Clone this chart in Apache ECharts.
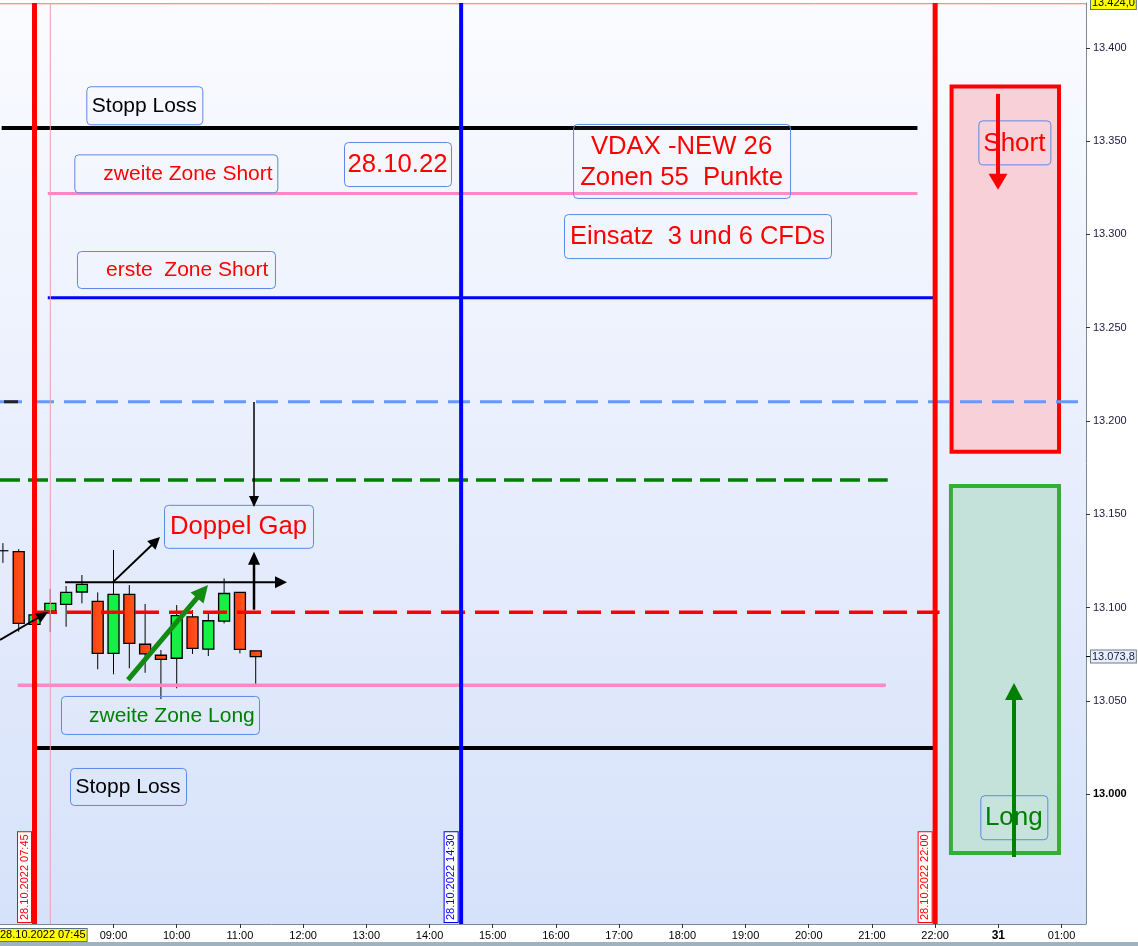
<!DOCTYPE html>
<html><head><meta charset="utf-8">
<script src="https://cdn.jsdelivr.net/npm/echarts@6/dist/echarts.min.js"></script>
<style>html,body{margin:0;padding:0;background:#fff;overflow:hidden}#c{width:1138px;height:946px}</style>
</head><body><div id="c"></div>
<script>
// ---------- DATA ----------
// time unit: decimal hours of 28.10.2022; 23 = "31" (00:00), 24 = 01:00
const candleTimes = ['07:15','07:30','07:45','08:00','08:15','08:30','08:45','09:00','09:15','09:30','09:45','10:00','10:15','10:30','10:45','11:00','11:15'];
const candleOpen  = [13130.5,13130.0,13091.0,13098.2,13101.8,13108.4,13103.4,13075.5,13107.1,13080.4,13074.5,13072.9,13095.1,13077.8,13092.8,13108.2,13076.9];
const candleClose = [13130.5,13091.6,13096.1,13102.3,13108.2,13112.5,13075.5,13107.1,13080.9,13075.2,13072.3,13095.7,13078.2,13093.0,13107.6,13077.7,13073.8];
const candleLow   = [13124.0,13087.1,13090.0,13087.0,13089.8,13102.3,13067.0,13064.3,13067.5,13065.1,13051.0,13056.8,13075.2,13074.1,13091.6,13075.5,13059.0];
const candleHigh  = [13134.6,13131.4,13097.5,13110.0,13111.6,13117.5,13108.2,13130.9,13112.1,13102.0,13077.3,13101.4,13098.7,13097.0,13115.7,13108.2,13076.9];

const xTickValues = [9,10,11,12,13,14,15,16,17,18,19,20,21,22,23,24];
const xTickLabels = ['09:00','10:00','11:00','12:00','13:00','14:00','15:00','16:00','17:00','18:00','19:00','20:00','21:00','22:00','31','01:00'];
const yTickValues = [13000,13050,13100,13150,13200,13250,13300,13350,13400];

const xMin = 7.204, xMax = 24.387;
const yMin = 12930.5, yMax = 13424;

// horizontal level lines
const levelPrices = [13357.0, 13321.9, 13266.1, 13210.4, 13210.4, 13168.4, 13097.5, 13058.4, 13024.8, 13423.6];
const levelFrom   = [7.23, 7.96, 7.96, 7.204, 7.267, 7.204, 7.726, 7.484, 7.753, 7.204];
const levelTo     = [21.72, 21.72, 22.0, 24.387, 7.489, 21.25, 22.07, 21.22, 22.0, 24.387];

// vertical time markers
const vlineTimes  = [7.75, 8.0, 14.5, 22.0];
const vlineLabels = ['28.10.2022 07:45', '', '28.10.2022 14:30', '28.10.2022 22:00'];

// zone rectangles
const zoneFrom   = [22.26, 22.25];
const zoneTo     = [23.96, 23.96];
const zoneTop    = [13379.2, 13165.2];
const zoneBottom = [13183.6, 12968.6];

// annotations (anchor = top-left of box)
const annTexts  = ['Stopp Loss','zweite Zone Short','28.10.22','VDAX -NEW 26\nZonen 55  Punkte','Einsatz  3 und 6 CFDs','erste  Zone Short','Doppel Gap','zweite Zone Long','Stopp Loss','Short','Long'];
const annTimes  = [8.570, 8.380, 12.647, 16.271, 16.128, 8.422, 9.799, 8.169, 8.312, 22.684, 22.715];
const annPrices = [13379.4, 13342.9, 13349.5, 13359.2, 13310.9, 13291.1, 13155.1, 13052.7, 13014.1, 13361.1, 12999.5];

// arrows
const arrowFromT = [22.995, 23.248, 11.223, 11.223, 8.233, 8.992, 7.204, 9.229];
const arrowFromP = [13375.3, 12966.4, 13210.2, 13098.9, 13113.6, 13113.7, 13082.7, 13061.3];
const arrowToT   = [22.995, 23.248, 11.223, 11.223, 11.745, 9.736, 7.964, 10.495];
const arrowToP   = [13323.9, 13059.6, 13153.9, 13130.0, 13113.6, 13137.8, 13097.7, 13112.2];

// price labels on axis
const lastPrice = 13073.8;
const topPrice = 13424.0;
const cursorTime = 7.75;
const cursorLabel = '28.10.2022 07:45';

// ---------- STYLES ----------
const FONT = '"Liberation Sans", Arial, Helvetica, sans-serif';
const levelStyles = [
  {color:'#000000', width:4, type:'solid'},
  {color:'#ff88c4', width:3, type:'solid'},
  {color:'#0000ff', width:3, type:'solid'},
  {color:'#6699ff', width:3, type:[22,10]},
  {color:'#222222', width:3, type:'solid'},
  {color:'#008000', width:3.5, type:[20,8]},
  {color:'#ff0000', width:3.5, type:[24,10]},
  {color:'#ff88c4', width:3.5, type:'solid'},
  {color:'#000000', width:4, type:'solid'},
  {color:'#ff7070', width:1, type:'solid'}
];
const vlineStyles = [
  {color:'#ff0000', width:5},
  {color:'#e4a4ac', width:1},
  {color:'#0000ff', width:4},
  {color:'#ff0000', width:5}
];
const zoneStyles = [
  {stroke:'#ff0000', fill:'#f8d0d7'},
  {stroke:'#33b033', fill:'#c5e2da'}
];
const annStyles = [
  {w:116,h:38,fs:21,color:'#000000',align:'center'},
  {w:203,h:38,fs:21,color:'#ff0000',align:'left',pad:29},
  {w:107,h:44,fs:25.7,color:'#ff0000',align:'center'},
  {w:217,h:74,fs:25.7,color:'#ff0000',align:'center',lh:31},
  {w:267,h:44,fs:25.5,color:'#ff0000',align:'center'},
  {w:198,h:37,fs:21,color:'#ff0000',align:'left',pad:29},
  {w:149,h:43,fs:25.7,color:'#ff0000',align:'center'},
  {w:198,h:38,fs:21,color:'#008000',align:'left',pad:28},
  {w:116,h:37,fs:21,color:'#000000',align:'center'},
  {w:72,h:44,fs:26,color:'#ff0000',align:'center'},
  {w:67,h:44,fs:26,color:'#008000',align:'center'}
];
const arrowStyles = [
  {color:'#ff0000', w:4, hl:16, hw:19},
  {color:'#008000', w:4, hl:17, hw:18},
  {color:'#000000', w:1.5, hl:11, hw:10},
  {color:'#000000', w:2.5, hl:13, hw:12},
  {color:'#000000', w:2, hl:12, hw:12},
  {color:'#000000', w:2, hl:12, hw:12},
  {color:'#000000', w:2, hl:12, hw:11},
  {color:'#138a13', w:5, hl:17, hw:17}
];

function hrs(s){const p=s.split(':').map(Number);return p[0]+p[1]/60;}
function fmtDE(v, dec){
  const s = v.toFixed(dec).split('.');
  const int = s[0].replace(/\B(?=(\d{3})+(?!\d))/g,'.');
  return dec ? int+','+s[1] : int;
}

const chart = echarts.init(document.getElementById('c'), null, {renderer:'canvas'});
const series = [];

// zones
series.push({
  type:'custom', z:1, silent:true,
  data: zoneFrom.map((t,i)=>[t, zoneTop[i], i]),
  renderItem(params, api){
    const i = params.dataIndex;
    const a = api.coord([zoneFrom[i], zoneTop[i]]);
    const b = api.coord([zoneTo[i], zoneBottom[i]]);
    return {type:'rect', shape:{x:a[0], y:a[1], width:b[0]-a[0], height:b[1]-a[1]},
      style:{fill:zoneStyles[i].fill, stroke:zoneStyles[i].stroke, lineWidth:4}};
  }
});

// candles
series.push({
  type:'custom', z:2, silent:true,
  data: candleTimes.map((t,i)=>[hrs(t), candleOpen[i], candleClose[i], candleLow[i], candleHigh[i]]),
  renderItem(params, api){
    const x = api.value(0), o = api.value(1), c = api.value(2), l = api.value(3), h = api.value(4);
    const pO = api.coord([x,o]), pC = api.coord([x,c]), pL = api.coord([x,l]), pH = api.coord([x,h]);
    const w = 11;
    const top = Math.min(pO[1], pC[1]), bot = Math.max(pO[1], pC[1]);
    const up = c > o;
    const flat = Math.abs(c-o) < 0.01;
    const kids = [
      {type:'line', shape:{x1:pH[0], y1:pH[1], x2:pL[0], y2:pL[1]}, style:{stroke:'#000', lineWidth:1}}
    ];
    if (flat) {
      kids.push({type:'line', shape:{x1:pO[0]-w/2, y1:pO[1], x2:pO[0]+w/2, y2:pO[1]}, style:{stroke:'#000', lineWidth:1.2}});
    } else {
      kids.push({type:'rect', shape:{x:pO[0]-w/2, y:top, width:w, height:bot-top},
        style:{fill: up ? '#14f048' : new echarts.graphic.LinearGradient(0,0,1,0,[{offset:0,color:'#ff3c0c'},{offset:1,color:'#ff5a1e'}]),
               stroke:'#000', lineWidth:1.3}});
    }
    return {type:'group', children:kids};
  }
});

// level lines
levelPrices.forEach((p,i)=>{
  const st = levelStyles[i];
  series.push({
    type:'line', z:3, silent:true, symbol:'none', animation:false,
    data:[[levelFrom[i], p],[levelTo[i], p]],
    lineStyle:{color:st.color, width:st.width, type:st.type, cap:'butt'}
  });
});

// vertical lines
vlineTimes.forEach((t,i)=>{
  const st = vlineStyles[i];
  series.push({
    type:'line', z:4, silent:true, symbol:'none', animation:false,
    data:[[t, yMin],[t, yMax]],
    lineStyle:{color:st.color, width:st.width}
  });
});

// vertical date labels
series.push({
  type:'custom', z:5, silent:true,
  data: vlineTimes.map((t,i)=>[t, yMin, i]),
  renderItem(params, api){
    const i = params.dataIndex;
    if (!vlineLabels[i]) return null;
    const p = api.coord([vlineTimes[i], yMin]);
    const col = vlineStyles[i].color;
    return {type:'text', x:p[0]-10, y:p[1]-2, rotation:Math.PI/2,
      style:{text:vlineLabels[i], x:0, y:0, align:'left', verticalAlign:'middle',
        font:'11px '+FONT, fill:col, backgroundColor:'#ffffff', borderColor:col, borderWidth:1, padding:[1,2,1,2]}};
  }
});

// annotations
series.push({
  type:'custom', z:6, silent:true,
  data: annTexts.map((s,i)=>[annTimes[i], annPrices[i], i]),
  renderItem(params, api){
    const i = params.dataIndex;
    const st = annStyles[i];
    const a = api.coord([annTimes[i], annPrices[i]]);
    const tx = st.align === 'center' ? a[0] + st.w/2 : a[0] + st.pad;
    return {type:'group', children:[
      {type:'rect', shape:{x:a[0]+0.5, y:a[1]+0.5, width:st.w, height:st.h, r:4},
        style:{fill:'rgba(255,255,255,0.05)', stroke:'#5a8ae6', lineWidth:1}},
      {type:'text', style:{text:annTexts[i], x:tx, y:a[1]+st.h/2+1, align:st.align, verticalAlign:'middle',
        font:st.fs+'px '+FONT, fill:st.color, lineHeight: st.lh || st.fs*1.2}}
    ]};
  }
});

// arrows
series.push({
  type:'custom', z:7, silent:true,
  data: arrowFromT.map((t,i)=>[t, arrowFromP[i], i]),
  renderItem(params, api){
    const i = params.dataIndex;
    const st = arrowStyles[i];
    const a = api.coord([arrowFromT[i], arrowFromP[i]]);
    const b = api.coord([arrowToT[i], arrowToP[i]]);
    const dx = b[0]-a[0], dy = b[1]-a[1], L = Math.hypot(dx,dy), ux = dx/L, uy = dy/L;
    const bx = b[0]-ux*st.hl, by = b[1]-uy*st.hl, px = -uy, py = ux;
    return {type:'group', children:[
      {type:'line', shape:{x1:a[0], y1:a[1], x2:bx+ux, y2:by+uy}, style:{stroke:st.color, lineWidth:st.w}},
      {type:'polygon', shape:{points:[[b[0],b[1]],[bx+px*st.hw/2, by+py*st.hw/2],[bx-px*st.hw/2, by-py*st.hw/2]]},
        style:{fill:st.color}}
    ]};
  }
});

// axis price / time labels
series.push({
  type:'custom', z:8, silent:true,
  data:[[xMax, topPrice, 0],[xMax, lastPrice, 1],[cursorTime, yMin, 2]],
  renderItem(params, api){
    const i = params.dataIndex;
    if (i === 0) {
      const p = api.coord([xMax, topPrice]);
      return {type:'text', style:{text:fmtDE(topPrice,1), x:p[0]+5, y:p[1], align:'left', verticalAlign:'middle',
        font:'11px '+FONT, fill:'#000', backgroundColor:'#ffff00', borderColor:'#5f7080', borderWidth:1, padding:[1,1,0,1]}};
    }
    if (i === 1) {
      const p = api.coord([xMax, lastPrice]);
      return {type:'group', children:[
        {type:'line', shape:{x1:p[0], y1:p[1], x2:p[0]+5, y2:p[1]}, style:{stroke:'#000', lineWidth:1}},
        {type:'text', style:{text:fmtDE(lastPrice,1), x:p[0]+5, y:p[1], align:'left', verticalAlign:'middle',
          font:'11px '+FONT, fill:'#1a1a3a', backgroundColor:'#e8eefb', borderColor:'#6a7c8c', borderWidth:1, padding:[1,1,0,1]}}
      ]};
    }
    const p = api.coord([cursorTime, yMin]);
    const halfW = 45;
    const left = Math.max(-1, p[0]-halfW);
    return {type:'text', style:{text:cursorLabel, x:left, y:p[1]+11, align:'left', verticalAlign:'middle',
      font:'11px '+FONT, fill:'#000', backgroundColor:'#ffff00', borderColor:'#5f7080', borderWidth:1, padding:[1,1,0,1]}};
  }
});

chart.setOption({
  animation:false,
  backgroundColor:'#ffffff',
  grid:{left:0, right:52, top:3, bottom:22, show:true, borderWidth:0,
    backgroundColor: new echarts.graphic.LinearGradient(0,0,0,1,[{offset:0,color:'#fafbff'},{offset:1,color:'#d6e2fa'}])},
  xAxis:{type:'value', min:xMin, max:xMax,
    axisLine:{show:true, lineStyle:{color:'#7a8a98', width:1}},
    axisTick:{show:true, customValues:xTickValues, length:4, lineStyle:{color:'#333'}},
    axisLabel:{customValues:xTickValues, margin:6, fontSize:11, fontFamily:FONT, color:'#000',
      formatter:(v)=>{const i = xTickValues.indexOf(Math.round(v)); const s = xTickLabels[i]; return s==='31' ? '{b|31}' : s;},
      rich:{b:{fontWeight:'bold', fontSize:12, fontFamily:FONT, color:'#000'}}},
    splitLine:{show:false}},
  yAxis:{type:'value', position:'right', min:yMin, max:yMax,
    axisLine:{show:true, lineStyle:{color:'#7a8a98', width:1}},
    axisTick:{show:true, customValues:yTickValues, length:4, lineStyle:{color:'#333'}},
    axisLabel:{customValues:yTickValues, margin:7, fontSize:11, fontFamily:FONT, color:'#1a1a3a',
      formatter:(v)=>{const s = fmtDE(Math.round(v),0); return Math.round(v)===13000 ? '{b|'+s+'}' : s;},
      rich:{b:{fontWeight:'bold', fontSize:11, fontFamily:FONT, color:'#000'}}},
    splitLine:{show:false}},
  graphic:[{type:'rect', left:0, bottom:0, shape:{width:1138, height:4}, style:{fill:'#9fb2c0'}, z:100}],
  series
});
</script></body></html>
